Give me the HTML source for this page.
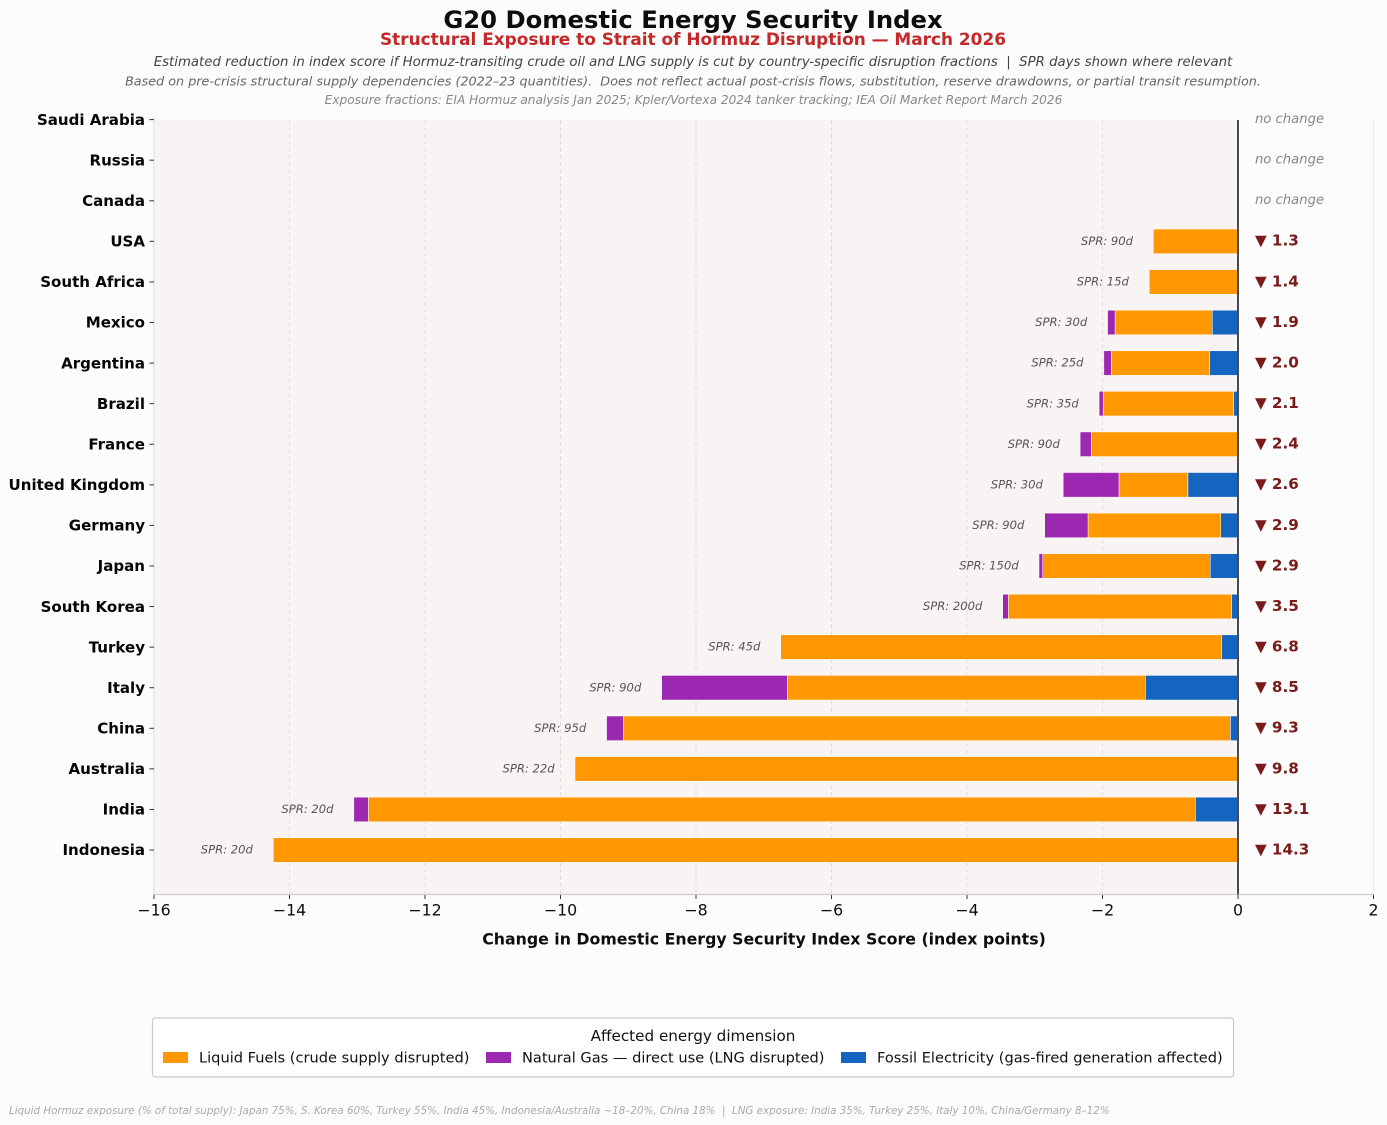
<!DOCTYPE html>
<html lang="en">
<head>
<meta charset="utf-8">
<title>G20 Domestic Energy Security Index</title>
<style>
html,body{margin:0;padding:0;background:#fcfcfc;}
svg{display:block;}
text{font-family:"DejaVu Sans","Liberation Sans",sans-serif;}
</style>
</head>
<body>
<svg id="chart" width="1387" height="1125" viewBox="0 0 1387 1125" xmlns="http://www.w3.org/2000/svg">
<rect x="0" y="0" width="1387" height="1125" fill="#fcfcfc"/>
<text x="693" y="28.2" text-anchor="middle" font-size="24.28" font-weight="bold" fill="#0d0d0d">G20 Domestic Energy Security Index</text>
<text x="693" y="45.2" text-anchor="middle" font-size="16.92" font-weight="bold" fill="#c62828">Structural Exposure to Strait of Hormuz Disruption — March 2026</text>
<text x="693" y="66" text-anchor="middle" font-size="13.31" font-style="italic" fill="#444" xml:space="preserve">Estimated reduction in index score if Hormuz-transiting crude oil and LNG supply is cut by country-specific disruption fractions  |  SPR days shown where relevant</text>
<text x="693" y="85.3" text-anchor="middle" font-size="12.75" font-style="italic" fill="#666" xml:space="preserve">Based on pre-crisis structural supply dependencies (2022–23 quantities).  Does not reflect actual post-crisis flows, substitution, reserve drawdowns, or partial transit resumption.</text>
<text x="693.5" y="104.2" text-anchor="middle" font-size="12.14" font-style="italic" fill="#888">Exposure fractions: EIA Hormuz analysis Jan 2025; Kpler/Vortexa 2024 tanker tracking; IEA Oil Market Report March 2026</text>
<g id="plot"></g>
<text x="764" y="944.3" text-anchor="middle" font-size="15.78" font-weight="bold" fill="#0d0d0d">Change in Domestic Energy Security Index Score (index points)</text>
<g>
<rect x="152.5" y="1018" width="1081" height="59" rx="3" fill="#ffffff" stroke="#c8c8c8" stroke-width="1.2"/>
<text x="693" y="1041" text-anchor="middle" font-size="15.2" fill="#111">Affected energy dimension</text>
<rect x="163" y="1052" width="25" height="11" fill="#ff9800"/>
<text x="199" y="1062.7" font-size="14.6" fill="#111">Liquid Fuels (crude supply disrupted)</text>
<rect x="486" y="1052" width="25" height="11" fill="#9c27b0"/>
<text x="522" y="1062.7" font-size="14.58" fill="#111">Natural Gas — direct use (LNG disrupted)</text>
<rect x="841" y="1052" width="25" height="11" fill="#1565c0"/>
<text x="877" y="1062.7" font-size="14.58" fill="#111">Fossil Electricity (gas-fired generation affected)</text>
</g>
<text x="9" y="1114" font-size="10.31" font-style="italic" fill="#aaa" xml:space="preserve">Liquid Hormuz exposure (% of total supply): Japan 75%, S. Korea 60%, Turkey 55%, India 45%, Indonesia/Australia ~18–20%, China 18%  |  LNG exposure: India 35%, Turkey 25%, Italy 10%, China/Germany 8–12%</text>
</svg>
<script>
const categories = ["Saudi Arabia","Russia","Canada","USA","South Africa","Mexico","Argentina","Brazil","France","United Kingdom","Germany","Japan","South Korea","Turkey","Italy","China","Australia","India","Indonesia"];
const electricity = [0,0,0,0,0,0.38,0.42,0.065,0,0.74,0.255,0.41,0.093,0.24,1.368,0.113,0,0.63,0];
const liquid = [0,0,0,1.25,1.31,1.435,1.45,1.925,2.165,1.017,1.959,2.473,3.297,6.51,5.284,8.957,9.786,12.206,14.24];
const gas = [0,0,0,0,0,0.11,0.11,0.06,0.165,0.823,0.639,0.054,0.083,0,1.855,0.25,0,0.214,0];
const totals = ["no change","no change","no change","1.3","1.4","1.9","2.0","2.1","2.4","2.6","2.9","2.9","3.5","6.8","8.5","9.3","9.8","13.1","14.3"];
const sprDays = [null,null,null,90,15,30,25,35,90,30,90,150,200,45,90,95,22,20,20];
const xTicks = [-16,-14,-12,-10,-8,-6,-4,-2,0,2];

const NS = 'http://www.w3.org/2000/svg';
const plot = document.getElementById('plot');
const X0 = 154, X1 = 1373.5, XMIN = -16, XMAX = 2;
const Y0 = 119.6, ROW = 40.58, TOP = 120, BOTTOM = 894.5;
const xScale = v => X0 + (v - XMIN) * (X1 - X0) / (XMAX - XMIN);
const yScale = i => Y0 + i * ROW;
const BAR_H = 24.6;

function make(tag, attrs, txt) {
  const el = document.createElementNS(NS, tag);
  for (const k in attrs) el.setAttribute(k, attrs[k]);
  if (txt !== undefined) el.textContent = txt;
  plot.appendChild(el);
  return el;
}

let el = make('rect', {x: xScale(XMIN), y: TOP, width: xScale(0) - xScale(XMIN), height: BOTTOM - TOP, fill: '#f9f4f4'});



xTicks.forEach(t => {
  const x = xScale(t);
  if (t !== 0 && t !== XMIN) {
    const grid = make('line', {x1: x, x2: x, y1: TOP, y2: BOTTOM, stroke: '#dcdcdc', 'stroke-width': 1, 'stroke-dasharray': t === XMAX ? 'none' : '4 3', opacity: t === XMAX ? 0.5 : 0.9});
    
    
  }
  const tick = make('line', {x1: x, x2: x, y1: BOTTOM, y2: BOTTOM + 4.5, stroke: '#333', 'stroke-width': 1});
  
  
  const label = make('text', {x: x, y: BOTTOM + 20.8, 'text-anchor': 'middle', 'font-size': 15.8, fill: '#0d0d0d'}, String(t).replace('-', '\u2212'));
  
  
});

el = make('line', {x1: X0, x2: X0, y1: TOP, y2: BOTTOM, stroke: '#dddddd', 'stroke-width': 1});


el = make('line', {x1: X0, x2: X1, y1: BOTTOM, y2: BOTTOM, stroke: '#cccccc', 'stroke-width': 1.2});



function segment(start, value, i, color, name) {
  if (value <= 0) return start;
  const end = start + value;
  const x = xScale(-end);
  const bar = make('rect', {x: x, y: yScale(i) - BAR_H / 2, width: xScale(-start) - x, height: BAR_H, fill: color, stroke: '#ffffff', 'stroke-width': 0.5});
  
  
  return end;
}

categories.forEach((c, i) => {
  const y = yScale(i);
  const tick = make('line', {x1: X0 - 4.5, x2: X0, y1: y, y2: y, stroke: '#333', 'stroke-width': 1});
  
  
  const label = make('text', {x: X0 - 9, y: y + 5.2, 'text-anchor': 'end', 'font-size': 15.04, 'font-weight': 'bold', fill: '#050505'}, c);
  
  

  let end = 0;
  end = segment(end, electricity[i], i, '#1565c0', 'bar-electricity');
  end = segment(end, liquid[i], i, '#ff9800', 'bar-liquid');
  end = segment(end, gas[i], i, '#9c27b0', 'bar-gas');

  if (sprDays[i] !== null) {
    const spr = make('text', {x: xScale(-end - 0.3), y: y + 3.6, 'text-anchor': 'end', 'font-size': 11.6, 'font-style': 'italic', fill: '#555'}, 'SPR: ' + sprDays[i] + 'd');
    
    
    const val = make('text', {x: xScale(0.25), y: y + 4.4, 'font-size': 15.2, 'font-weight': 'bold', fill: '#7b1a1a'}, '\u25BC ' + totals[i]);
    
    
  } else {
    const none = make('text', {x: xScale(0.25), y: y + 3.2, 'font-size': 13.2, 'font-style': 'italic', fill: '#888'}, totals[i]);
    
    
  }
});

el = make('line', {x1: xScale(0), x2: xScale(0), y1: TOP, y2: BOTTOM, stroke: '#4a4a4a', 'stroke-width': 2});


</script>
</body>
</html>
